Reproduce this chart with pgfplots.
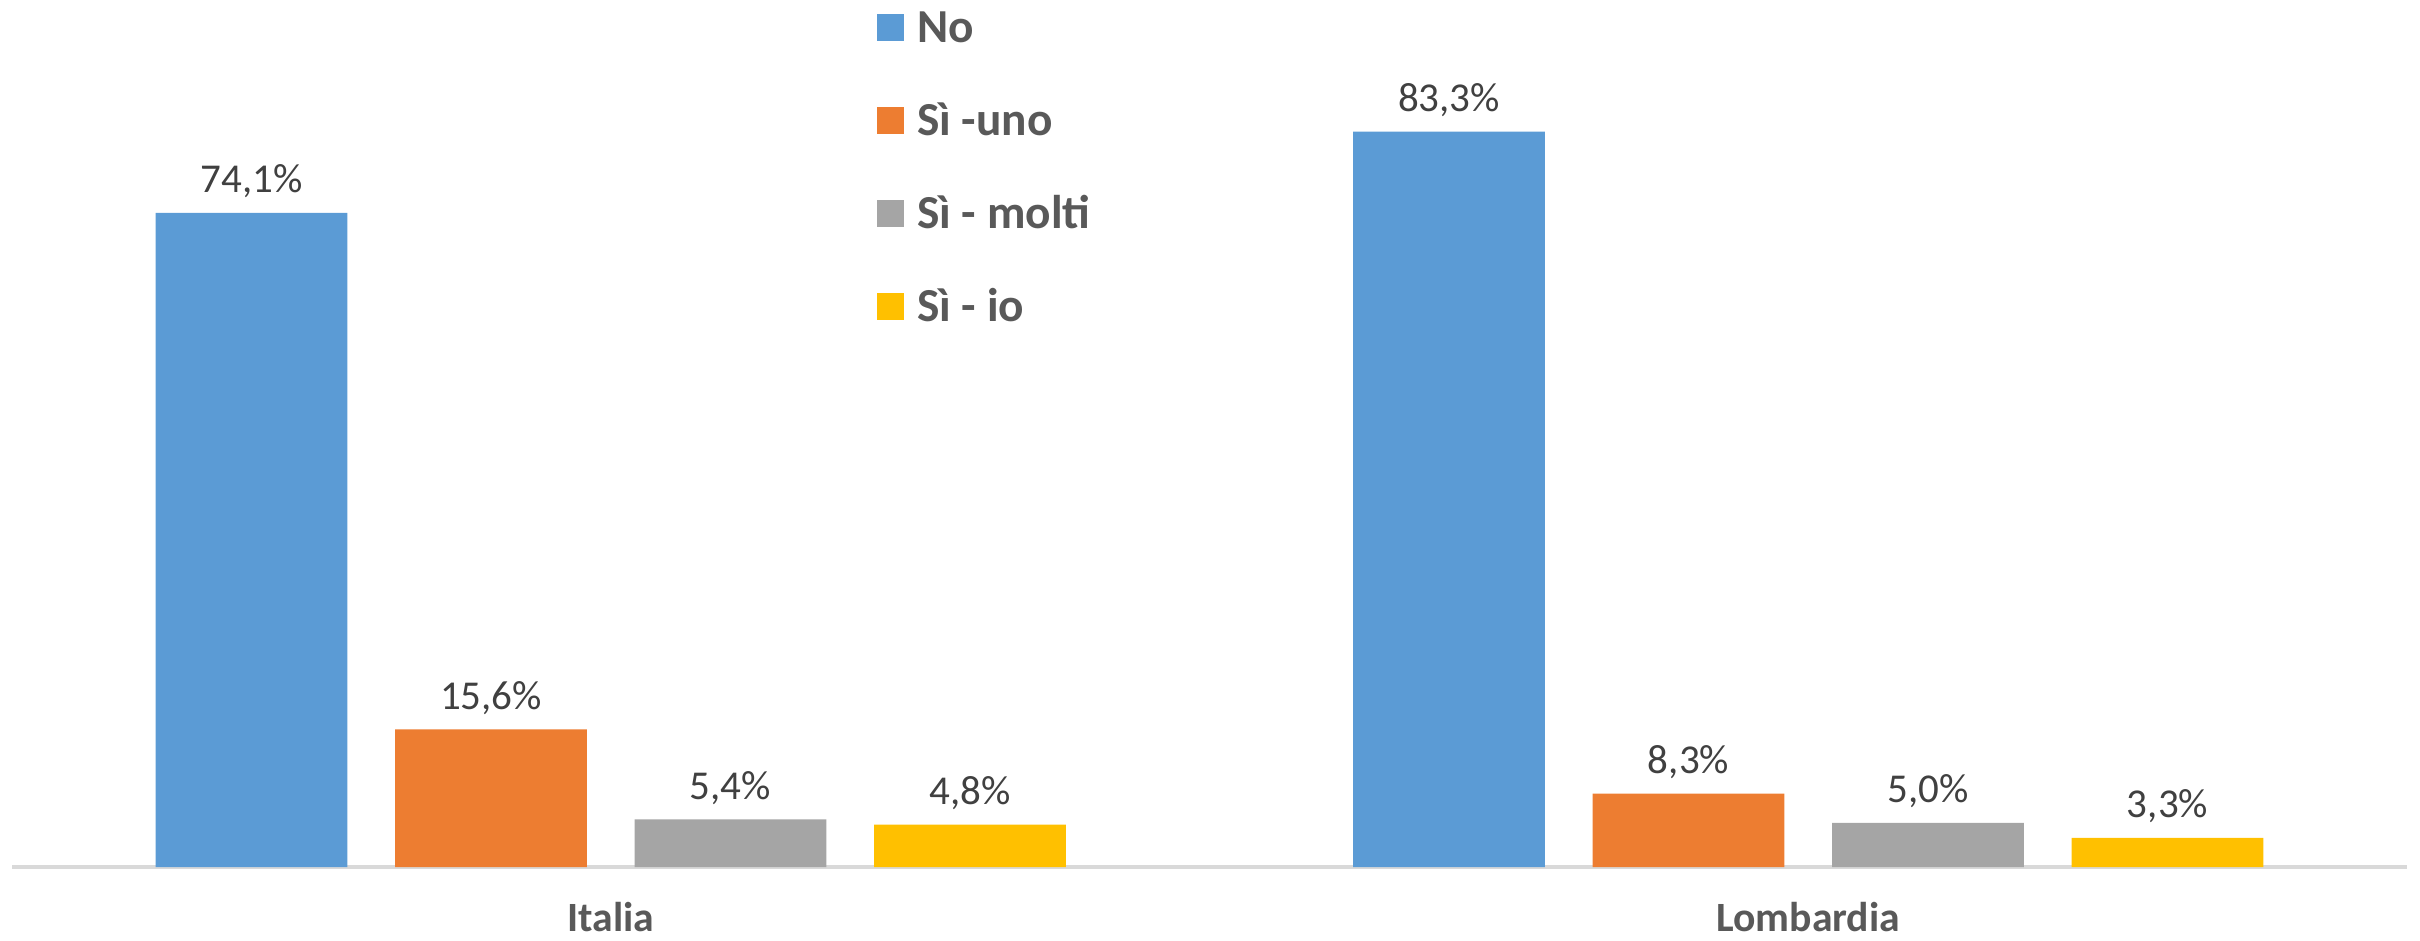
\documentclass[border=0pt]{standalone}
\usepackage{pgfplots}
\pgfplotsset{compat=1.18}
\usepackage{fontspec}
\setmainfont{Carlito}

\definecolor{cblue}{HTML}{5B9BD5}
\definecolor{corange}{HTML}{ED7D31}
\definecolor{cgray}{HTML}{A5A5A5}
\definecolor{cyellow}{HTML}{FFC000}
\definecolor{txt}{HTML}{595959}
\definecolor{lbl}{HTML}{404040}
\definecolor{axl}{HTML}{D9D9D9}

\begin{document}
\begin{tikzpicture}
  \begin{axis}[
    name=ax,
    at={(0,0)}, anchor=south west,
    scale only axis,
    width=718.5pt, height=260.1pt,
    ybar,
    xmin=-0.5, xmax=1.5,
    ymin=0, ymax=98.2,
    clip=false,
    axis y line=none,
    axis x line*=bottom,
    axis line style={axl, line width=1pt, -},
    xtick={0,1},
    xticklabels={Italia, Lombardia},
    xtick style={draw=none},
    major tick length=0pt,
    x tick label style={font=\fontsize{12.5}{14}\selectfont\bfseries, text=txt,
      inner sep=0pt, anchor=base, yshift=-19.4pt},
    bar width=0.16,
    /pgf/number format/assume math mode=true,
    nodes near coords={\pgfmathprintnumber[fixed,fixed zerofill,precision=1,use comma]{\pgfplotspointmeta}\%},
    every node near coord/.append style={font=\fontsize{12.3}{14}\selectfont, text=lbl,
      anchor=base, inner sep=0pt, yshift=6pt},
    legend style={at={(0.361,0.99)}, anchor=north west, draw=none, fill=none,
      inner sep=0pt, row sep=14.9pt,
      font=\fontsize{14.2}{16}\selectfont\bfseries, text=txt,
      /tikz/every odd column/.append style={column sep=4pt},
      nodes={inner sep=0pt, text height=10pt, text depth=3pt, anchor=base west}},
    legend cell align=left,
    legend image code/.code={\fill[#1] (0pt,0.5pt) rectangle (8pt,8.5pt);},
  ]
    \addplot[bar shift=-0.3, fill=cblue, draw=none] coordinates {(0,74.1) (1,83.3)};
    \addplot[bar shift=-0.1, fill=corange, draw=none] coordinates {(0,15.6) (1,8.3)};
    \addplot[bar shift=0.1, fill=cgray, draw=none] coordinates {(0,5.4) (1,5.0)};
    \addplot[bar shift=0.3, fill=cyellow, draw=none] coordinates {(0,4.8) (1,3.3)};
    \legend{No, Sì -uno, Sì - molti, Sì - io}
  \end{axis}
  \pgfresetboundingbox
  \path[use as bounding box] (-3.6pt,-21.9pt) rectangle (722.4pt,260.1pt);
\end{tikzpicture}
\end{document}
